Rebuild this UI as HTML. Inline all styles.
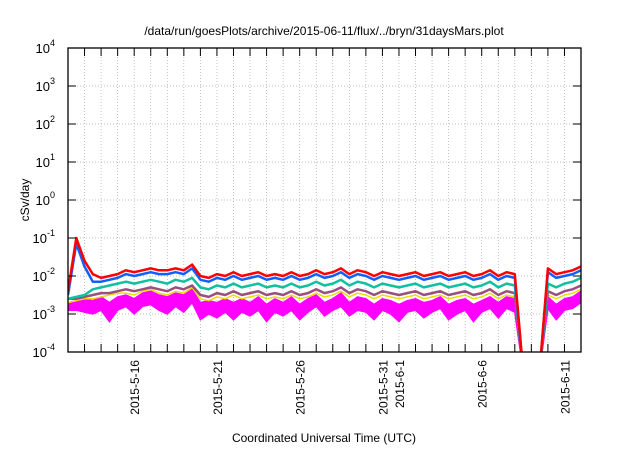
<!DOCTYPE html>
<html><head><meta charset="utf-8"><style>
body{margin:0;background:#fff;font-family:"Liberation Sans",sans-serif}
svg text{font-family:"Liberation Sans",sans-serif;fill:#000}
</style></head><body>
<svg width="640" height="448" id="c">
<text x="324" y="35" font-size="12" text-anchor="middle">/data/run/goesPlots/archive/2015-06-11/flux/../bryn/31daysMars.plot</text>
<text x="29" y="200" font-size="12" text-anchor="middle" transform="rotate(-90 29 200)">cSv/day</text>
<text x="324" y="442" font-size="12" text-anchor="middle">Coordinated Universal Time (UTC)</text>
<defs><clipPath id="cp"><rect x="68" y="48" width="513" height="304"/></clipPath></defs>
<g id="grid"></g><g id="series" clip-path="url(#cp)"></g><g id="axes"></g>
</svg>
<script>
const yTicks=[-4,-3,-2,-1,0,1,2,3,4];
const xLabels=[{d:4,t:"2015-5-16"},{d:9,t:"2015-5-21"},{d:14,t:"2015-5-26"},{d:19,t:"2015-5-31"},{d:20,t:"2015-6-1"},{d:25,t:"2015-6-6"},{d:30,t:"2015-6-11"}];
const red=[-2.4,-1.0,-1.6,-1.95,-2.05,-2.0,-1.95,-1.85,-1.9,-1.85,-1.8,-1.85,-1.85,-1.8,-1.85,-1.7,-2.0,-2.05,-1.95,-2.0,-1.9,-2.0,-1.95,-1.9,-2.0,-1.95,-2.0,-1.9,-2.0,-1.95,-1.85,-1.95,-1.9,-1.8,-1.95,-1.85,-1.9,-2.0,-1.9,-1.95,-2.0,-1.95,-1.9,-2.0,-1.95,-1.9,-2.0,-1.95,-1.9,-2.0,-1.95,-1.85,-2.0,-1.9,-1.95,-4.5,null,-4.5,-1.8,-1.95,-1.9,-1.85,-1.75];
const blue=[-2.5,-1.15,-1.75,-2.15,-2.15,-2.1,-2.05,-1.95,-2.0,-1.95,-1.9,-1.95,-1.95,-1.9,-1.95,-1.8,-2.1,-2.15,-2.05,-2.1,-2.0,-2.1,-2.05,-2.0,-2.1,-2.05,-2.1,-2.0,-2.1,-2.05,-1.95,-2.05,-2.0,-1.9,-2.05,-1.95,-2.0,-2.1,-2.0,-2.05,-2.1,-2.05,-2.0,-2.1,-2.05,-2.0,-2.1,-2.05,-2.0,-2.1,-2.05,-1.95,-2.1,-2.0,-2.05,-4.5,null,-4.5,-1.9,-2.05,-2.0,-1.95,-1.85];
const teal=[-2.6,-2.55,-2.5,-2.35,-2.3,-2.25,-2.2,-2.15,-2.2,-2.15,-2.1,-2.15,-2.2,-2.1,-2.15,-2.05,-2.3,-2.35,-2.25,-2.3,-2.2,-2.3,-2.25,-2.2,-2.3,-2.25,-2.3,-2.2,-2.3,-2.25,-2.15,-2.25,-2.2,-2.1,-2.25,-2.15,-2.2,-2.3,-2.2,-2.25,-2.3,-2.25,-2.2,-2.3,-2.25,-2.2,-2.3,-2.25,-2.2,-2.3,-2.25,-2.15,-2.3,-2.2,-2.25,-4.5,null,-4.5,-2.2,-2.3,-2.2,-2.15,-2.05];
const purple=[-2.6,-2.6,-2.55,-2.5,-2.45,-2.45,-2.4,-2.35,-2.4,-2.35,-2.3,-2.35,-2.4,-2.3,-2.35,-2.25,-2.5,-2.55,-2.45,-2.5,-2.4,-2.5,-2.45,-2.4,-2.5,-2.45,-2.5,-2.4,-2.5,-2.45,-2.35,-2.45,-2.4,-2.3,-2.45,-2.35,-2.4,-2.5,-2.4,-2.45,-2.5,-2.45,-2.4,-2.5,-2.45,-2.4,-2.5,-2.45,-2.4,-2.5,-2.45,-2.35,-2.5,-2.4,-2.45,-4.5,null,-4.5,-2.4,-2.5,-2.4,-2.35,-2.25];
const yellow=[-2.7,-2.65,-2.6,-2.6,-2.55,-2.5,-2.45,-2.45,-2.5,-2.4,-2.35,-2.45,-2.5,-2.4,-2.45,-2.3,-2.6,-2.65,-2.55,-2.6,-2.5,-2.6,-2.55,-2.5,-2.6,-2.55,-2.6,-2.5,-2.6,-2.55,-2.45,-2.55,-2.5,-2.4,-2.55,-2.45,-2.5,-2.6,-2.5,-2.55,-2.6,-2.55,-2.5,-2.6,-2.55,-2.5,-2.6,-2.55,-2.5,-2.6,-2.55,-2.45,-2.6,-2.5,-2.55,-4.5,null,-4.5,-2.5,-2.6,-2.5,-2.45,-2.35];
const magenta=[-2.7,-2.65,-2.6,-2.65,-2.55,-2.7,-2.55,-2.5,-2.6,-2.45,-2.4,-2.5,-2.55,-2.45,-2.5,-2.35,-2.7,-2.65,-2.7,-2.6,-2.7,-2.6,-2.7,-2.55,-2.75,-2.6,-2.7,-2.55,-2.75,-2.6,-2.5,-2.7,-2.6,-2.45,-2.7,-2.55,-2.6,-2.75,-2.6,-2.65,-2.75,-2.65,-2.6,-2.7,-2.65,-2.55,-2.75,-2.65,-2.6,-2.75,-2.65,-2.55,-2.7,-2.55,-2.6,-4.5,null,-4.5,-2.55,-2.75,-2.6,-2.55,-2.4];
const magentaLow=[-2.9,-2.9,-2.95,-3.0,-2.9,-3.2,-2.9,-2.8,-3.0,-2.8,-2.75,-2.9,-3.0,-2.8,-2.95,-2.7,-3.15,-3.0,-3.1,-2.95,-3.15,-2.95,-3.05,-2.9,-3.2,-2.95,-3.05,-2.9,-3.15,-2.95,-2.8,-3.05,-2.9,-2.8,-3.05,-2.9,-2.95,-3.15,-2.9,-3.0,-3.2,-2.95,-2.9,-3.1,-2.95,-2.85,-3.15,-3.0,-2.9,-3.2,-2.95,-2.85,-3.1,-2.85,-2.95,-4.5,null,-4.5,-2.85,-3.15,-2.9,-2.85,-2.7];
const L=68,R=581,T=48,B=352,NS="http://www.w3.org/2000/svg";
const xS=d=>L+d*(R-L)/31, yS=v=>B-(v+4)*(B-T)/8;
function el(tag,a,p){const e=document.createElementNS(NS,tag);for(const k in a)e.setAttribute(k,a[k]);p.appendChild(e);return e;}
const g=document.getElementById('grid'),ax=document.getElementById('axes'),s=document.getElementById('series');
for(let d=1;d<31;d++){const l=el('line',{x1:xS(d),x2:xS(d),y1:T,y2:B,stroke:'#aaa','stroke-width':0.7,'stroke-dasharray':'1,2'},g);

el('line',{x1:xS(d),x2:xS(d),y1:B,y2:B-8,stroke:'#000'},ax);el('line',{x1:xS(d),x2:xS(d),y1:T,y2:T+8,stroke:'#000'},ax);}
yTicks.forEach(v=>{const y=yS(v);
if(v>-4&&v<4){const l=el('line',{x1:L,x2:R,y1:y,y2:y,stroke:'#aaa','stroke-width':0.7,'stroke-dasharray':'1,2'},g);
}
el('line',{x1:L,x2:L+8,y1:y,y2:y,stroke:'#000'},ax);el('line',{x1:R,x2:R-8,y1:y,y2:y,stroke:'#000'},ax);
const t=el('text',{x:L-13,y:y+5,'font-size':13,'text-anchor':'end'},ax);t.textContent='10';

const sp=el('tspan',{dy:-7,'font-size':9},t);sp.textContent=String(v);});
xLabels.forEach(o=>{const x=xS(o.d);const t=el('text',{x:x+5,y:B+8,'font-size':12,'text-anchor':'end',transform:`rotate(-90 ${x+5} ${B+8})`},ax);
t.textContent=o.t;});
const fr=el('rect',{x:L,y:T,width:R-L,height:B-T,fill:'none',stroke:'#000','stroke-width':1.3},ax);

// magenta band
function segs(arr){const out=[];let cur=[];arr.forEach((v,i)=>{if(v===null){if(cur.length)out.push(cur);cur=[];return;}cur.push([xS(i*0.5),yS(v)]);});if(cur.length)out.push(cur);return out;}
const hi=segs(magenta),lo=segs(magentaLow);
hi.forEach((sg,k)=>{const pts=sg.concat(lo[k].slice().reverse()).map(p=>p[0].toFixed(1)+','+p[1].toFixed(1)).join(' ');
const p=el('polygon',{points:pts,fill:'#ff00ff',stroke:'#ff00ff','stroke-width':1.5},s);
});
const series=[[yellow,'#e8e000','yellow-series',1.5],[purple,'#9a4f80','purple-series',2.5],[teal,'#10c0a0','teal-series',2.5],[blue,'#1060ff','blue-series',2.5],[red,'#ff0000','red-series',2.5]];
series.forEach(([arr,c,n,w])=>{let d='',pen=false;arr.forEach((v,i)=>{if(v===null){pen=false;return;}d+=(pen?'L':'M')+xS(i*0.5).toFixed(1)+','+yS(v).toFixed(1);pen=true;});
const p=el('path',{d,fill:'none',stroke:c,'stroke-width':w,'stroke-linejoin':'round'},s);
});
</script>
</body></html>
